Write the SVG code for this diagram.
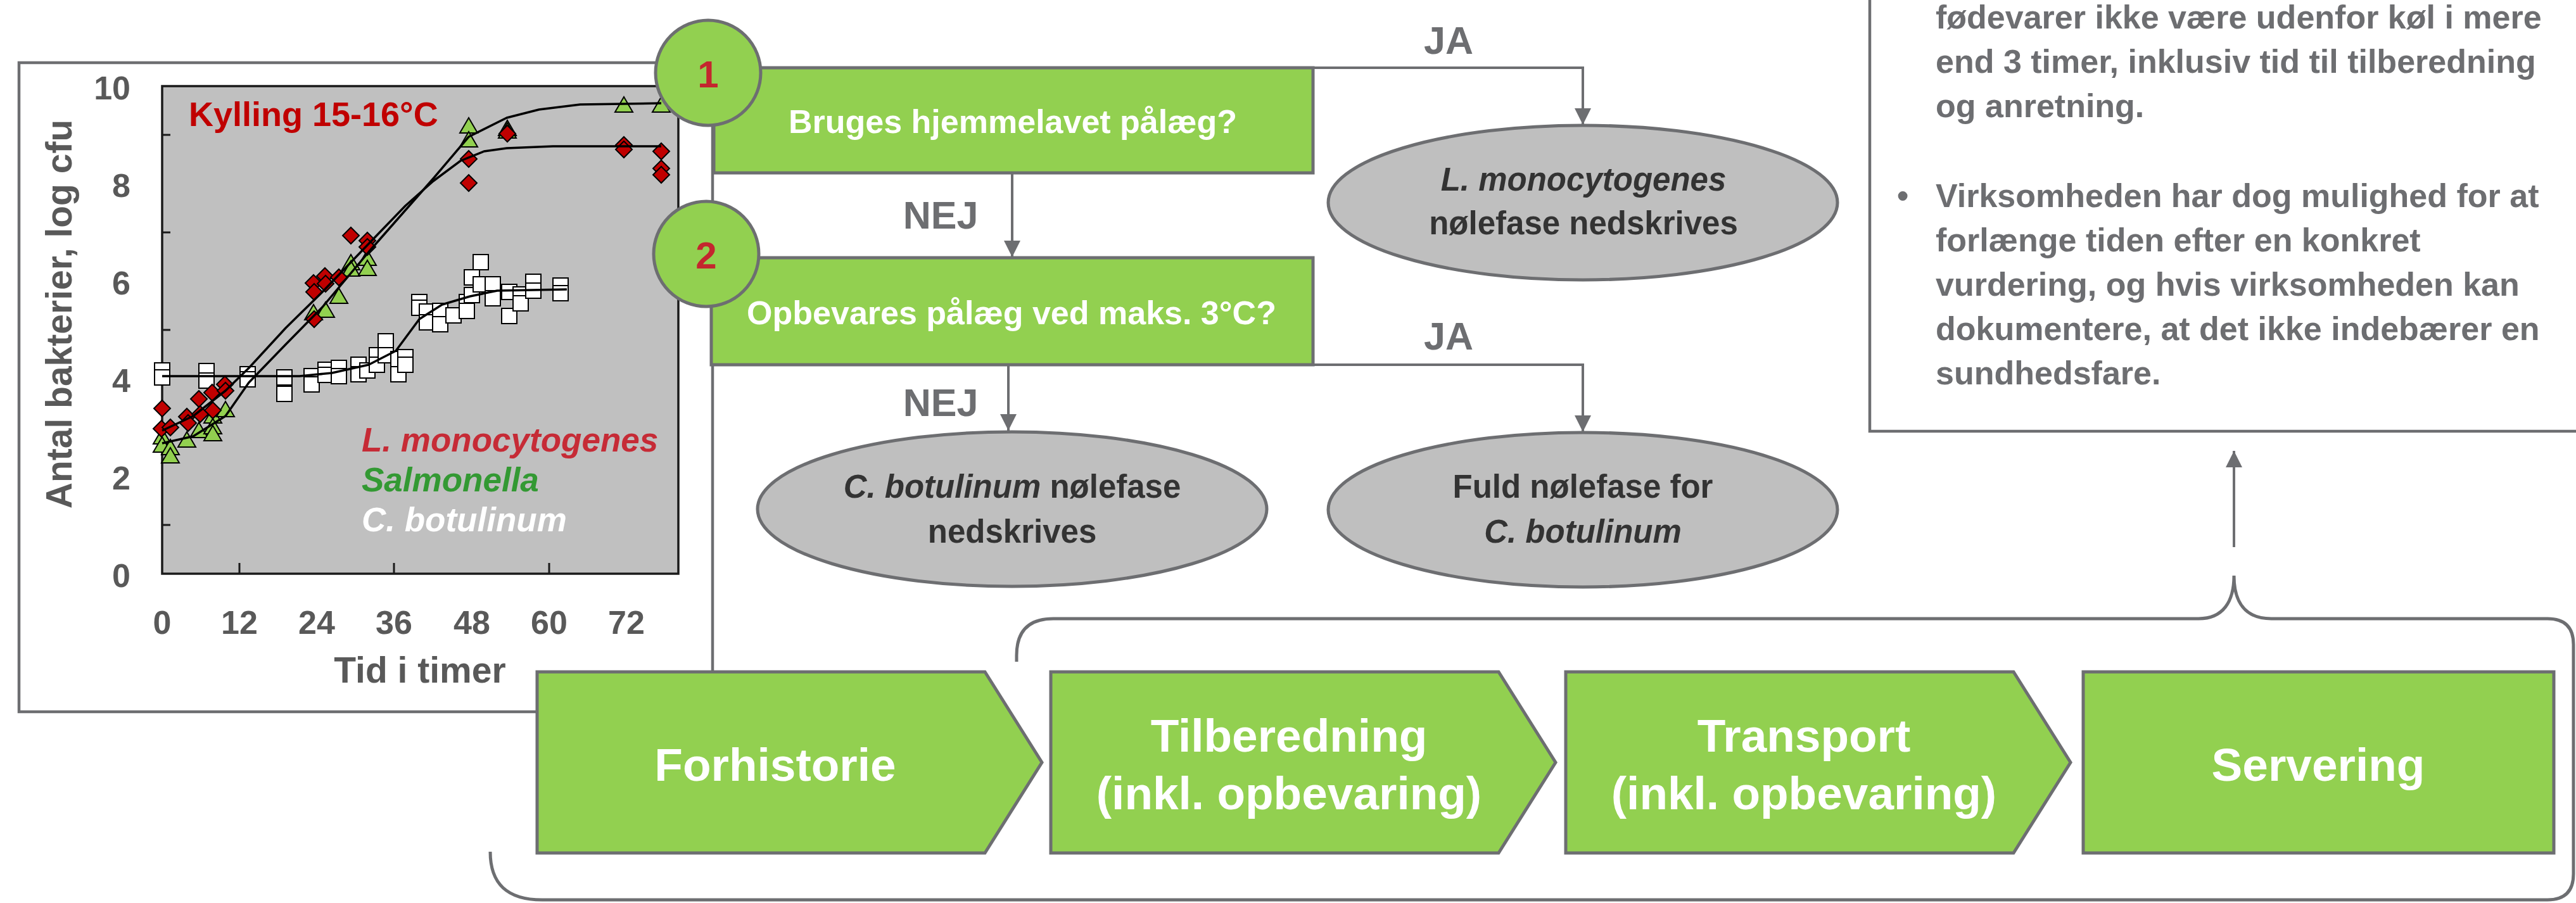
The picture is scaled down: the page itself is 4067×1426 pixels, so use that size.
<svg xmlns="http://www.w3.org/2000/svg" xmlns:xlink="http://www.w3.org/1999/xlink" width="4067" height="1426" viewBox="0 0 4067 1426">
<style>
text{font-family:"Liberation Sans",Arial,sans-serif;font-weight:bold}
.ax{fill:#595959;font-size:52px}
.axt{fill:#595959;font-size:57px}
.flowbox{fill:#92D050;stroke:#6D6E71;stroke-width:5}
.num{fill:#C4262E;font-size:60px;text-anchor:middle}
.wt{fill:#FFFFFF;text-anchor:middle}
.ell{fill:#BFBFBF;stroke:#6D6E71;stroke-width:5}
.et{fill:#333333;font-size:51px;text-anchor:middle}
.lbl{fill:#6D6E71;font-size:61px;text-anchor:middle}
.conn{fill:none;stroke:#6D6E71;stroke-width:4}
.brace{fill:none;stroke:#6D6E71;stroke-width:5}
.note{fill:#6D6E71;font-size:52px}
.mk{stroke:#000;stroke-width:2}
.curve{fill:none;stroke:#000;stroke-width:3.5;stroke-linejoin:round}
.it{font-style:italic}
</style>
<defs>
<marker id="arr" markerUnits="userSpaceOnUse" markerWidth="26" markerHeight="26" refX="26" refY="13" orient="auto">
<path d="M0,0 L26,13 L0,26 Z" fill="#6D6E71"/>
</marker>
<path id="dia" class="mk" d="M0,-13 L13,0 L0,13 L-13,0 Z" fill="#C00000"/>
<path id="tri" class="mk" d="M0,-13 L14,11 L-14,11 Z" fill="#92D050"/>
<rect id="sq" class="mk" x="-12" y="-12" width="24" height="24" fill="#FFFFFF"/>
</defs>
<rect width="4067" height="1426" fill="#FFFFFF"/>

<g id="chart">
<rect x="30" y="99" width="1095" height="1025" fill="#FFFFFF" stroke="#6D6E71" stroke-width="4.5"/>
<rect x="256" y="136" width="815" height="770" fill="#C0C0C0" stroke="#1A1A1A" stroke-width="3.5"/>
<g stroke="#1A1A1A" stroke-width="3">
<line x1="256" y1="213" x2="269" y2="213"/><line x1="256" y1="367" x2="269" y2="367"/><line x1="256" y1="521" x2="269" y2="521"/><line x1="256" y1="675" x2="269" y2="675"/><line x1="256" y1="829" x2="269" y2="829"/>
<line x1="378" y1="906" x2="378" y2="889"/><line x1="622" y1="906" x2="622" y2="889"/><line x1="867" y1="906" x2="867" y2="889"/>
</g>
<g class="ax" text-anchor="end">
<text x="206" y="157">10</text><text x="206" y="311">8</text><text x="206" y="465">6</text><text x="206" y="619">4</text><text x="206" y="773">2</text><text x="206" y="927">0</text>
</g>
<g class="ax" text-anchor="middle">
<text x="256" y="1001">0</text><text x="378" y="1001">12</text><text x="500" y="1001">24</text><text x="622" y="1001">36</text><text x="745" y="1001">48</text><text x="867" y="1001">60</text><text x="989" y="1001">72</text>
</g>
<text class="axt" x="663" y="1078" text-anchor="middle" font-size="56">Tid i timer</text>
<text class="axt" transform="translate(113,496) rotate(-90)" text-anchor="middle">Antal bakterier, log cfu</text>
<text x="298" y="199" fill="#C00000" font-size="54">Kylling 15-16°C</text>
<g>
<use xlink:href="#sq" x="256" y="585"/><use xlink:href="#sq" x="256" y="596"/><use xlink:href="#sq" x="326" y="586"/><use xlink:href="#sq" x="326" y="601"/><use xlink:href="#sq" x="391" y="591"/><use xlink:href="#sq" x="391" y="599"/><use xlink:href="#sq" x="449" y="596"/><use xlink:href="#sq" x="449" y="622"/><use xlink:href="#sq" x="492" y="594"/><use xlink:href="#sq" x="492" y="607"/><use xlink:href="#sq" x="514" y="584"/><use xlink:href="#sq" x="514" y="592"/><use xlink:href="#sq" x="535" y="581"/><use xlink:href="#sq" x="535" y="594"/><use xlink:href="#sq" x="566" y="576"/><use xlink:href="#sq" x="566" y="591"/><use xlink:href="#sq" x="580" y="585"/><use xlink:href="#sq" x="595" y="561"/><use xlink:href="#sq" x="595" y="576"/><use xlink:href="#sq" x="609" y="539"/><use xlink:href="#sq" x="609" y="561"/><use xlink:href="#sq" x="629" y="567"/><use xlink:href="#sq" x="629" y="591"/><use xlink:href="#sq" x="640" y="564"/><use xlink:href="#sq" x="640" y="576"/><use xlink:href="#sq" x="662" y="477"/><use xlink:href="#sq" x="662" y="486"/><use xlink:href="#sq" x="674" y="492"/><use xlink:href="#sq" x="674" y="509"/><use xlink:href="#sq" x="695" y="491"/><use xlink:href="#sq" x="695" y="512"/><use xlink:href="#sq" x="716" y="498"/><use xlink:href="#sq" x="737" y="477"/><use xlink:href="#sq" x="737" y="491"/><use xlink:href="#sq" x="745" y="438"/><use xlink:href="#sq" x="745" y="466"/><use xlink:href="#sq" x="759" y="414"/><use xlink:href="#sq" x="759" y="449"/><use xlink:href="#sq" x="778" y="449"/><use xlink:href="#sq" x="778" y="471"/><use xlink:href="#sq" x="804" y="461"/><use xlink:href="#sq" x="804" y="499"/><use xlink:href="#sq" x="822" y="465"/><use xlink:href="#sq" x="822" y="479"/><use xlink:href="#sq" x="842" y="445"/><use xlink:href="#sq" x="842" y="459"/><use xlink:href="#sq" x="885" y="451"/><use xlink:href="#sq" x="885" y="463"/>
</g>
<g>
<use xlink:href="#tri" x="256" y="690"/><use xlink:href="#tri" x="256" y="703"/><use xlink:href="#tri" x="269" y="707"/><use xlink:href="#tri" x="269" y="720"/><use xlink:href="#tri" x="295" y="695"/><use xlink:href="#tri" x="314" y="680"/><use xlink:href="#tri" x="336" y="657"/><use xlink:href="#tri" x="336" y="674"/><use xlink:href="#tri" x="336" y="685"/><use xlink:href="#tri" x="356" y="647"/><use xlink:href="#tri" x="495" y="494"/><use xlink:href="#tri" x="514" y="490"/><use xlink:href="#tri" x="535" y="468"/><use xlink:href="#tri" x="554" y="415"/><use xlink:href="#tri" x="554" y="425"/><use xlink:href="#tri" x="580" y="408"/><use xlink:href="#tri" x="580" y="424"/><use xlink:href="#tri" x="740" y="199"/><use xlink:href="#tri" x="740" y="221"/><use xlink:href="#tri" x="801" y="203"/><use xlink:href="#tri" x="801" y="207"/><use xlink:href="#tri" x="985" y="166"/><use xlink:href="#tri" x="1044" y="166"/>
</g>
<g>
<use xlink:href="#dia" x="256" y="645"/><use xlink:href="#dia" x="255" y="677"/><use xlink:href="#dia" x="269" y="675"/><use xlink:href="#dia" x="295" y="658"/><use xlink:href="#dia" x="297" y="668"/><use xlink:href="#dia" x="314" y="630"/><use xlink:href="#dia" x="316" y="654"/><use xlink:href="#dia" x="335" y="620"/><use xlink:href="#dia" x="336" y="648"/><use xlink:href="#dia" x="355" y="607"/><use xlink:href="#dia" x="356" y="617"/><use xlink:href="#dia" x="495" y="447"/><use xlink:href="#dia" x="496" y="461"/><use xlink:href="#dia" x="496" y="504"/><use xlink:href="#dia" x="513" y="436"/><use xlink:href="#dia" x="514" y="448"/><use xlink:href="#dia" x="535" y="438"/><use xlink:href="#dia" x="554" y="372"/><use xlink:href="#dia" x="580" y="380"/><use xlink:href="#dia" x="580" y="390"/><use xlink:href="#dia" x="740" y="251"/><use xlink:href="#dia" x="740" y="289"/><use xlink:href="#dia" x="801" y="211"/><use xlink:href="#dia" x="985" y="229"/><use xlink:href="#dia" x="985" y="236"/><use xlink:href="#dia" x="1044" y="239"/><use xlink:href="#dia" x="1044" y="266"/><use xlink:href="#dia" x="1044" y="276"/>
</g>
<polyline class="curve" points="256,680 305,657 356,617 393,581 451,518 509,461 582,385 640,325 684,286 727,254 764,239 800,234 873,231 1044,231"/>
<polyline class="curve" points="256,700 305,689 356,657 393,604 451,544 509,485 582,398 640,332 684,282 740,216 800,186 851,173 916,165 1044,163"/>
<polyline class="curve" points="256,594 473,594 524,589 582,576 625,554 662,504 698,481 742,468 785,459 895,457"/>
<text class="it" x="571" y="713" fill="#C62B36" font-size="53">L. monocytogenes</text>
<text class="it" x="571" y="776" fill="#339933" font-size="53">Salmonella</text>
<text class="it" x="571" y="839" fill="#FFFFFF" font-size="53">C. botulinum</text>
</g>

<g id="connectors">
<path class="conn" d="M1598,273 L1598,406" marker-end="url(#arr)"/>
<path class="conn" d="M2073,107 L2499,107 L2499,197" marker-end="url(#arr)"/>
<path class="conn" d="M1592,576 L1592,680" marker-end="url(#arr)"/>
<path class="conn" d="M2073,576 L2499,576 L2499,682" marker-end="url(#arr)"/>
<path class="conn" d="M3527,864 L3527,712" marker-end="url(#arr)"/>
<text class="lbl" x="1485" y="361">NEJ</text>
<text class="lbl" x="2287" y="85">JA</text>
<text class="lbl" x="1485" y="657">NEJ</text>
<text class="lbl" x="2287" y="552">JA</text>
</g>

<g id="q1">
<rect class="flowbox" x="1127" y="107" width="946" height="166"/>
<text class="wt" x="1599" y="210" font-size="52">Bruges hjemmelavet pålæg?</text>
</g>
<g id="q2">
<rect class="flowbox" x="1123" y="407" width="950" height="169"/>
<text class="wt" x="1597" y="512" font-size="52">Opbevares pålæg ved maks. 3°C?</text>
</g>
<g id="c1">
<circle class="flowbox" cx="1118" cy="115" r="83"/>
<text class="num" x="1118" y="138">1</text>
</g>
<g id="c2">
<circle class="flowbox" cx="1115" cy="401" r="83"/>
<text class="num" x="1115" y="424">2</text>
</g>
<g id="e-listeria">
<ellipse class="ell" cx="2499" cy="320" rx="402" ry="122"/>
<text class="et it" x="2500" y="301">L. monocytogenes</text>
<text class="et" x="2500" y="370">nølefase nedskrives</text>
</g>
<g id="e-cbot-ned">
<ellipse class="ell" cx="1598" cy="804" rx="402" ry="122"/>
<text class="et" x="1598" y="786"><tspan class="it">C. botulinum</tspan> nølefase</text>
<text class="et" x="1598" y="857">nedskrives</text>
</g>
<g id="e-cbot-fuld">
<ellipse class="ell" cx="2499" cy="805" rx="402" ry="122"/>
<text class="et" x="2499" y="786">Fuld nølefase for</text>
<text class="et it" x="2499" y="857">C. botulinum</text>
</g>

<g id="notebox">
<rect x="2952" y="-20" width="1140" height="701" fill="#FFFFFF" stroke="#6D6E71" stroke-width="4.5"/>
<g class="note">
<text x="3056" y="45">fødevarer ikke være udenfor køl i mere</text>
<text x="3056" y="115">end 3 timer, inklusiv tid til tilberedning</text>
<text x="3056" y="185">og anretning.</text>
<text x="2995" y="327">•</text>
<text x="3056" y="327">Virksomheden har dog mulighed for at</text>
<text x="3056" y="397">forlænge tiden efter en konkret</text>
<text x="3056" y="467">vurdering, og hvis virksomheden kan</text>
<text x="3056" y="537">dokumentere, at det ikke indebærer en</text>
<text x="3056" y="607">sundhedsfare.</text>
</g>
</g>

<g id="braces">
<path class="brace" d="M1605,1045 L1605,1035 Q1605,977 1663,977 L3471,977 C3510,977 3527,950 3527,909 C3527,950 3544,977 3586,977 L4022,977 Q4063,977 4063,1018 L4063,1380 Q4063,1421 4022,1421 L856,1421 C800,1421 774,1395 774,1345"/>
</g>

<g id="forhistorie">
<path class="flowbox" d="M848,1061 L1555,1061 L1645,1204 L1555,1347 L848,1347 Z"/>
<text class="wt" x="1224" y="1233" font-size="73">Forhistorie</text>
</g>
<g id="tilberedning">
<path class="flowbox" d="M1659,1061 L2366,1061 L2456,1204 L2366,1347 L1659,1347 Z"/>
<text class="wt" x="2035" y="1187" font-size="73">Tilberedning</text>
<text class="wt" x="2035" y="1278" font-size="73">(inkl. opbevaring)</text>
</g>
<g id="transport">
<path class="flowbox" d="M2472,1061 L3179,1061 L3269,1204 L3179,1347 L2472,1347 Z"/>
<text class="wt" x="2848" y="1187" font-size="73">Transport</text>
<text class="wt" x="2848" y="1278" font-size="73">(inkl. opbevaring)</text>
</g>
<g id="servering">
<rect class="flowbox" x="3289" y="1061" width="743" height="286"/>
<text class="wt" x="3660" y="1233" font-size="73">Servering</text>
</g>
</svg>
